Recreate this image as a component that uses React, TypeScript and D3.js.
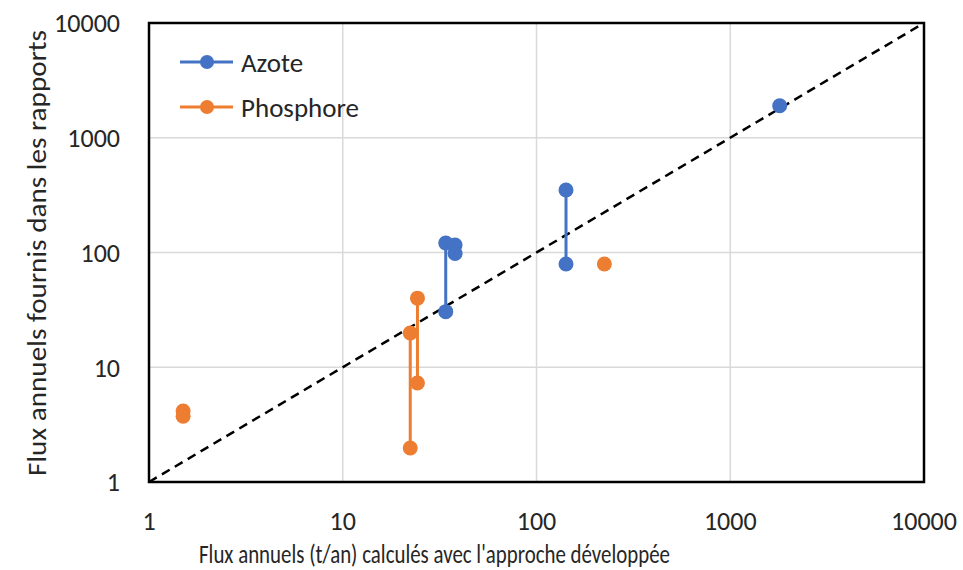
import React, { useEffect, useRef } from "react";
import * as d3 from "d3";

// values (t/an)
const azoteCalc = [1800, 34, 34, 38, 38, 142, 142];
const azoteReport = [1900, 121, 30.5, 116, 98, 350, 79.5];
const azoteGroup = [0, 1, 1, 2, 2, 3, 3];

const phosCalc = [1.5, 1.5, 22.3, 22.3, 24.3, 24.3, 224];
const phosReport = [4.15, 3.75, 19.9, 1.98, 40, 7.3, 79.5];
const phosGroup = [0, 0, 1, 1, 2, 2, 3];

const tickValues = [1, 10, 100, 1000, 10000];
const seriesNames = ["Azote", "Phosphore"];
const seriesColors = ["#4472C4", "#ED7D31"];

const xTitle = "Flux annuels (t/an) calculés avec l'approche  développée";
const yTitle = "Flux annuels fournis dans les rapports";

const W = 963;
const H = 570;
const FONT = "Carlito, Calibri, Lato, sans-serif";
const TEXT = "#262626";

const App = () => {
  const chartRef = useRef<SVGSVGElement>(null);

  useEffect(() => {
    const svg = d3.select(chartRef.current);
    svg.selectAll("*").remove();

    const left = 149;
    const right = 924;
    const top = 23;
    const bottom = 482;

    const x = d3.scaleLog().domain([1, 10000]).range([left, right]);
    const y = d3.scaleLog().domain([1, 10000]).range([bottom, top]);

    // gridlines
    const grid = svg.append("g");
    grid
      .selectAll("line.v")
      .data(tickValues.slice(1, -1))
      .enter()
      .append("line")
      .attr("x1", (d) => x(d))
      .attr("x2", (d) => x(d))
      .attr("y1", top)
      .attr("y2", bottom)
      .attr("stroke", "#d9d9d9")
      .attr("stroke-width", 1.5);
    grid
      .selectAll("line.h")
      .data(tickValues.slice(1, -1))
      .enter()
      .append("line")
      .attr("x1", left)
      .attr("x2", right)
      .attr("y1", (d) => y(d))
      .attr("y2", (d) => y(d))
      .attr("stroke", "#d9d9d9")
      .attr("stroke-width", 1.5);

    // 1:1 line
    svg
      .append("line")
      .attr("x1", x(1))
      .attr("y1", y(1))
      .attr("x2", x(10000))
      .attr("y2", y(10000))
      .attr("stroke", "#000")
      .attr("stroke-width", 2.5)
      .attr("stroke-dasharray", "9,6");

    // series
    const series = [
      { calc: azoteCalc, rep: azoteReport, grp: azoteGroup },
      { calc: phosCalc, rep: phosReport, grp: phosGroup },
    ];
    const line = d3
      .line<[number, number]>()
      .x((d) => x(d[0]))
      .y((d) => y(d[1]));

    series.forEach((s, i) => {
      const pts = s.calc.map((c, k) => ({ c, r: s.rep[k], g: s.grp[k] }));
      const groups = d3.group(pts, (d) => d.g);
      groups.forEach((g) => {
        if (g.length > 1) {
          svg
            .append("path")
            .attr("d", line(g.map((d) => [d.c, d.r] as [number, number])))
            .attr("fill", "none")
            .attr("stroke", seriesColors[i])
            .attr("stroke-width", 3);
        }
      });
      svg
        .append("g")
        .selectAll("circle")
        .data(pts)
        .enter()
        .append("circle")
        .attr("cx", (d) => x(d.c))
        .attr("cy", (d) => y(d.r))
        .attr("r", 7.5)
        .attr("fill", seriesColors[i]);
    });

    // frame
    svg
      .append("rect")
      .attr("x", left)
      .attr("y", top)
      .attr("width", right - left)
      .attr("height", bottom - top)
      .attr("fill", "none")
      .attr("stroke", "#000")
      .attr("stroke-width", 2.5);

    // tick labels
    svg
      .append("g")
      .selectAll("text")
      .data(tickValues)
      .enter()
      .append("text")
      .attr("x", 120)
      .attr("y", (d) => y(d))
      .attr("dy", "0.36em")
      .attr("text-anchor", "end")
      .attr("font-family", FONT)
      .attr("font-size", 26)
      .attr("fill", TEXT)
      .text((d) => d);
    svg
      .append("g")
      .selectAll("text")
      .data(tickValues)
      .enter()
      .append("text")
      .attr("x", (d) => x(d))
      .attr("y", 521)
      .attr("dy", "0.36em")
      .attr("text-anchor", "middle")
      .attr("font-family", FONT)
      .attr("font-size", 26)
      .attr("fill", TEXT)
      .text((d) => d);

    // axis titles
    svg
      .append("text")
      .attr("x", 199)
      .attr("y", 563)
      .attr("font-family", FONT)
      .attr("font-size", 27)
      .attr("fill", TEXT)
      .attr("textLength", 471)
      .attr("lengthAdjust", "spacingAndGlyphs")
      .text(xTitle);
    svg
      .append("text")
      .attr("transform", "translate(46,476) rotate(-90)")
      .attr("font-family", FONT)
      .attr("font-size", 27)
      .attr("fill", TEXT)
      .attr("textLength", 446)
      .attr("lengthAdjust", "spacingAndGlyphs")
      .text(yTitle);

    // legend
    const legend = svg.append("g");
    seriesNames.forEach((name, i) => {
      const ly = 62 + i * 45;
      legend
        .append("line")
        .attr("x1", 180)
        .attr("x2", 233)
        .attr("y1", ly)
        .attr("y2", ly)
        .attr("stroke", seriesColors[i])
        .attr("stroke-width", 3);
      legend
        .append("circle")
        .attr("cx", 207)
        .attr("cy", ly)
        .attr("r", 7)
        .attr("fill", seriesColors[i]);
      legend
        .append("text")
        .attr("x", 241)
        .attr("y", ly)
        .attr("dy", "0.36em")
        .attr("font-family", FONT)
        .attr("font-size", 27)
        .attr("fill", TEXT)
        .text(name);
    });
  }, []);

  return (
    <svg
      ref={chartRef}
      width={W}
      height={H}
      style={{ position: "absolute", left: 0, top: 0, background: "#fff" }}
    ></svg>
  );
};

export default App;
